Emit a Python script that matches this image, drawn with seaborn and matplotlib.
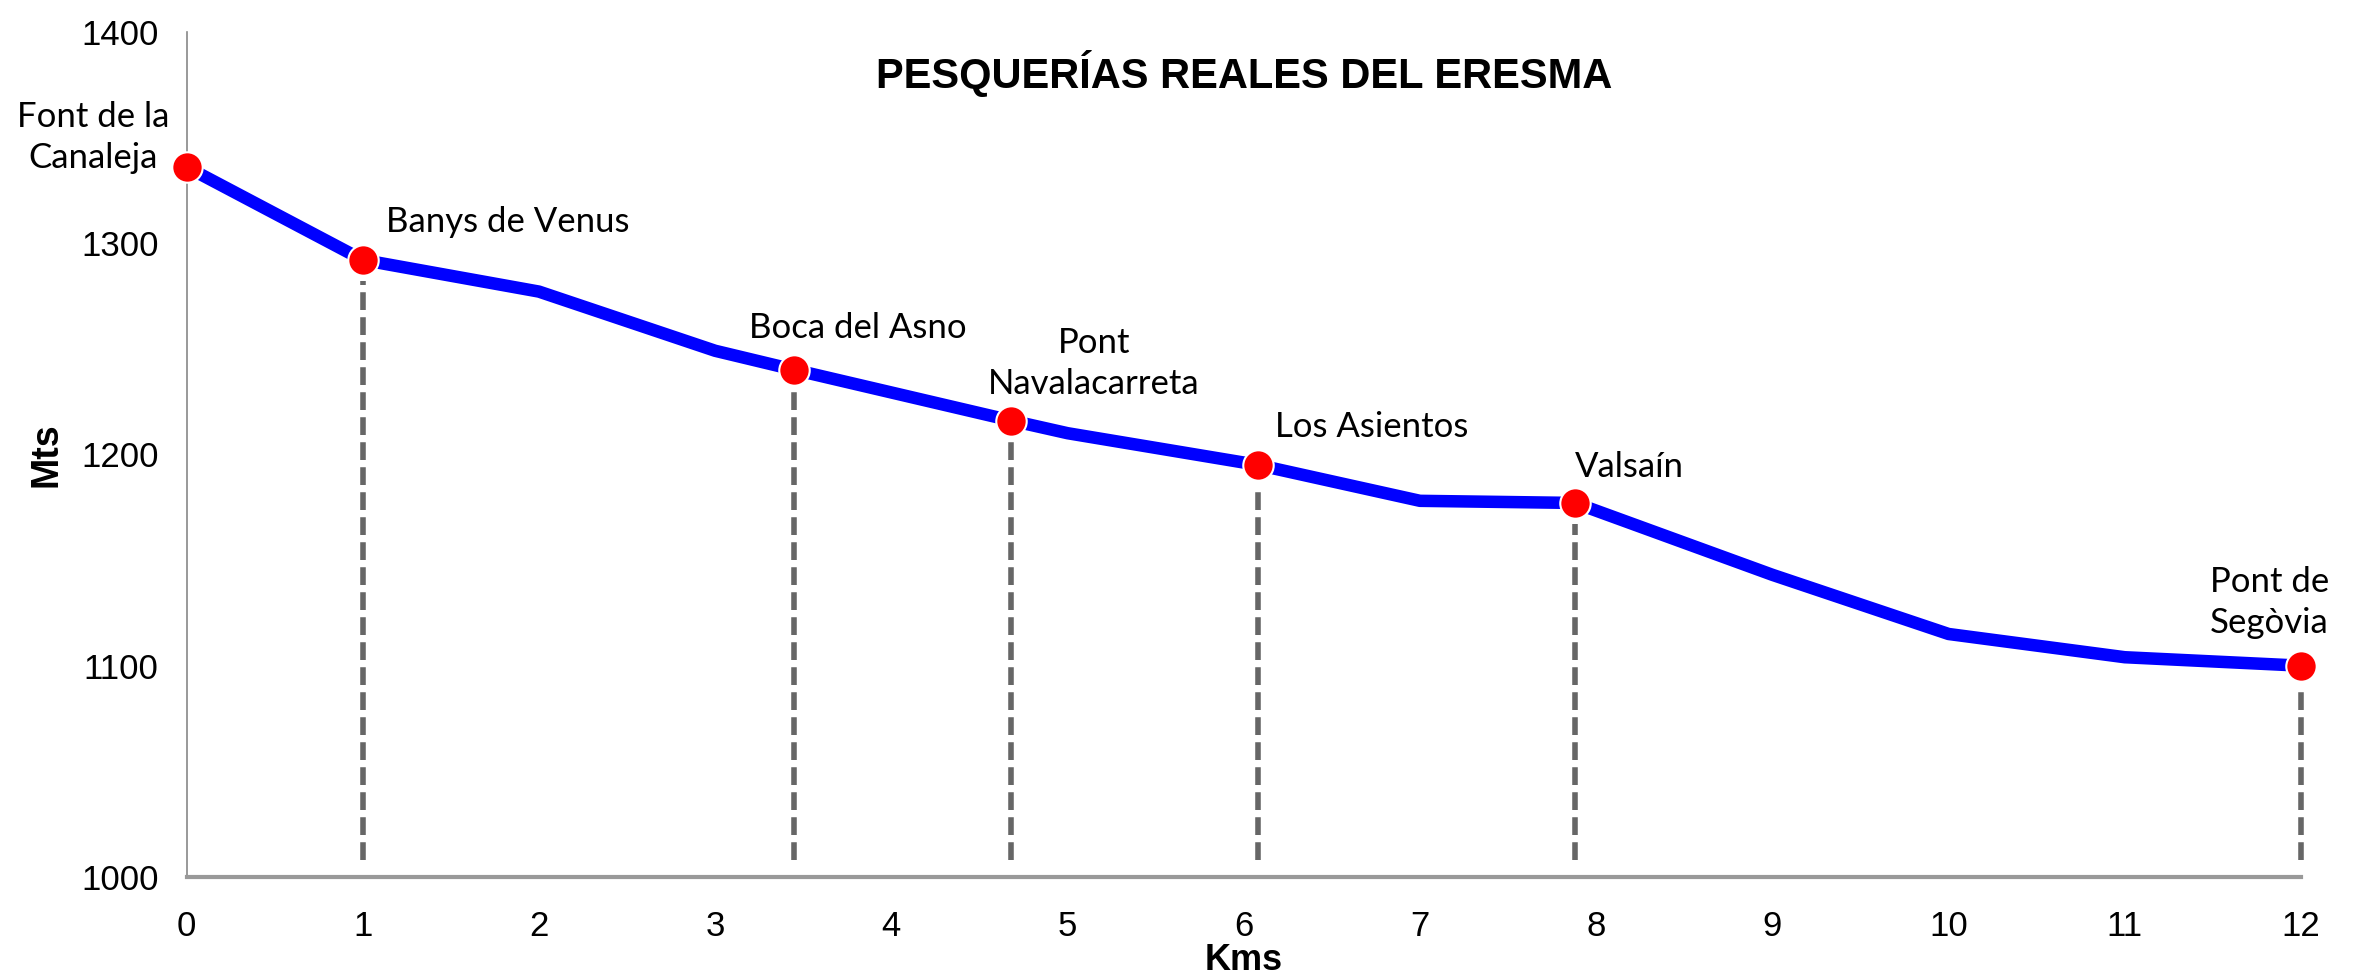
import matplotlib
matplotlib.use("Agg")
import matplotlib.pyplot as plt
import seaborn as sns
import pandas as pd

# river profile (km, metres)
profile_km = [0, 1, 2, 3, 3.45, 4.68, 5, 6.08, 7, 7.88, 9, 10, 11, 12]
profile_alt = [1336, 1292, 1277, 1249, 1240, 1216, 1210, 1195, 1178, 1177, 1143, 1115, 1104, 1100]

# named stops
stop_names = ["Font de la\nCanaleja", "Banys de Venus", "Boca del Asno", "Pont\nNavalacarreta",
              "Los Asientos", "Valsaín", "Pont de\nSegòvia"]
stop_km = [0, 1, 3.45, 4.68, 6.08, 7.88, 12]
stop_alt = [1336, 1292, 1240, 1216, 1195, 1177, 1100]

# label anchors
label_x = [-0.53, 1.13, 3.19, 5.15, 6.18, 7.88, 11.82]
label_y = [1350, 1310, 1260, 1243, 1213, 1194, 1130]
label_ha = ["center", "left", "left", "center", "left", "left", "center"]

sns.set_style("white")
plt.rcParams["font.family"] = ["Liberation Sans", "DejaVu Sans"]
plt.rcParams["text.color"] = "black"
plt.rcParams["xtick.labelcolor"] = "black"
plt.rcParams["ytick.labelcolor"] = "black"
plt.rcParams["axes.labelcolor"] = "black"

fig = plt.figure(figsize=(23.58, 9.76), dpi=100)
ax = fig.add_axes([0.0791, 0.1014, 0.8967, 0.8662])

prof = pd.DataFrame({"km": profile_km, "alt": profile_alt})
stops = pd.DataFrame({"km": stop_km, "alt": stop_alt})

# dashed drops to the axis (skip the source)
ax.vlines(stop_km[1:], 1008, [a - 10 for a in stop_alt[1:]], colors="#666666",
          linewidth=4, linestyles=(0, (3.2, 1.3)), zorder=1, clip_on=False)

sns.lineplot(data=prof, x="km", y="alt", color="#0000FF", linewidth=9, ax=ax,
             zorder=2, solid_joinstyle="round", clip_on=False)
sns.scatterplot(data=stops, x="km", y="alt", color="#FF0000", s=480, edgecolor="white",
                linewidth=1.5, ax=ax, zorder=3, clip_on=False)

for name, x, y, ha in zip(stop_names, label_x, label_y, label_ha):
    ax.text(x, y, name, ha=ha, va="center", fontsize=25, family=["Lato", "DejaVu Sans"],
            linespacing=1.35, clip_on=False)

ax.set_xlim(0, 12)
ax.set_ylim(1000, 1400)
ax.set_xticks(range(0, 13))
ax.set_yticks([1000, 1100, 1200, 1300, 1400])
ax.tick_params(axis="both", labelsize=25, length=12, width=1.2, color="#888888", direction="out")
ax.tick_params(axis="x", pad=12)
ax.tick_params(axis="y", pad=8)

for side in ["top", "right"]:
    ax.spines[side].set_visible(False)
ax.spines["left"].set_color("#888888")
ax.spines["left"].set_linewidth(1.2)
ax.spines["bottom"].set_color("#999999")
ax.spines["bottom"].set_linewidth(3)

ax.set_xlabel("Kms", fontsize=26, fontweight="bold", labelpad=0)
ax.set_ylabel("Mts", fontsize=27, fontweight="bold", labelpad=12)

ax.text(0.5, 0.95, "PESQUERÍAS REALES DEL ERESMA", transform=ax.transAxes, ha="center",
        va="center", fontsize=30, fontweight="bold")

fig.savefig("out.png", dpi=100)
